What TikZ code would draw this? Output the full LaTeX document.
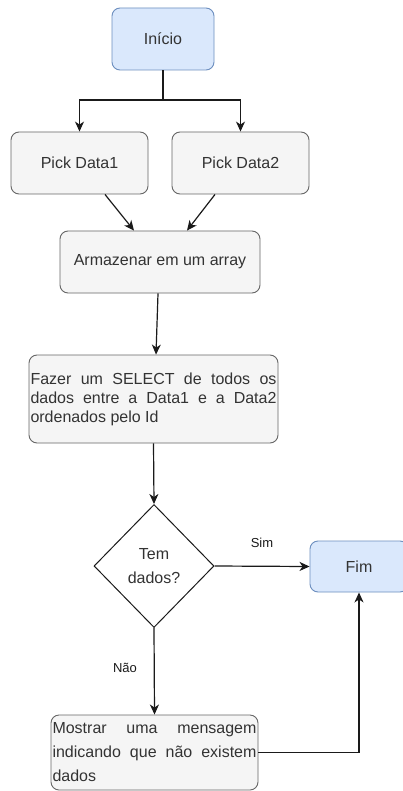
\documentclass[tikz,border=0pt]{standalone}
\usepackage{fontspec}
\setmainfont{Liberation Sans}
\usetikzlibrary{arrows.meta,shapes.geometric,calc}
\definecolor{boxfill}{HTML}{F5F5F5}
\definecolor{boxline}{HTML}{666666}
\definecolor{bluefill}{HTML}{DAE8FC}
\definecolor{blueline}{HTML}{6C8EBF}
\definecolor{txt}{HTML}{333333}
\definecolor{wire}{HTML}{1A1A1A}
\tikzset{
  x=1pt, y=-1pt,
  every node/.style={font=\fontsize{16}{19}\selectfont, text=txt},
  greybox/.style={draw=boxline, fill=boxfill, line width=0.9pt, rounded corners=8pt, inner sep=1.5pt},
  bluebox/.style={draw=blueline, fill=bluefill, line width=0.9pt, rounded corners=8pt, inner sep=1.5pt},
  decision/.style={draw=wire, fill=white, line width=1pt, diamond, inner sep=0pt, align=center,
    font=\fontsize{16}{24}\selectfont},
  flow/.style={draw=wire, line width=1.2pt, -{Stealth[length=10pt,width=9pt,inset=3pt]}},
  lbl/.style={font=\fontsize{13}{15}\selectfont, text=wire},
}
\begin{document}
\begin{tikzpicture}
  \clip (0,0) rectangle (403,791);
  \fill[white] (0,0) rectangle (403,791);

  % process nodes
  \node[bluebox, minimum width=102pt, minimum height=62pt] (start) at (163,39) {Início};
  \node[greybox, minimum width=137pt, minimum height=62pt] (pd1) at (79.5,163) {Pick Data1};
  \node[greybox, minimum width=137pt, minimum height=62pt] (pd2) at (240.5,163) {Pick Data2};
  \node[greybox, minimum width=200pt, minimum height=62pt] (arm) at (160,262) {Armazenar em um array};
  \node[greybox, minimum width=249pt, minimum height=88pt, text width=246pt, align=justify] (fz) at (153.5,399)
    {Fazer um SELECT de todos os\linebreak dados entre a Data1 e a Data2\linebreak ordenados pelo Id};
  \node[decision, minimum width=120pt, minimum height=123pt] (dec) at (154,566) {Tem\\dados?};
  \node[bluebox, minimum width=98pt, minimum height=51pt] (fim) at (359,566.5) {Fim};
  \node[greybox, minimum width=207pt, minimum height=75pt, text width=204pt, align=justify,
    font=\fontsize{16}{24}\selectfont] (msg) at (154.5,752.5)
    {Mostrar uma mensagem\linebreak indicando que não existem\linebreak dados};

  % connectors
  \coordinate (split) at (163,100);
  \draw[flow] (start.south) -- (split) -| (pd1.north);
  \draw[flow] (split) -| (pd2.north);
  \draw[flow] ($(pd1.south)+(25.5,0)$) -- ($(arm.north)+(-26,0)$);
  \draw[flow] ($(pd2.south)+(-25.5,0)$) -- ($(arm.north)+(27,0)$);
  \draw[flow] ($(arm.south)+(-2,0)$) -- ($(fz.north)+(2.5,0)$);
  \draw[flow] (fz.south) -- (dec.north);
  \draw[flow] (dec.east) -- (fim.west);
  \draw[flow] (dec.south) -- (msg.north);
  \draw[flow] (msg.east) -| (fim.south);

  % branch labels
  \node[lbl] (sim) at (262,543) {Sim};
  \node[lbl] (nao) at (125,668) {Não};
\end{tikzpicture}
\end{document}
